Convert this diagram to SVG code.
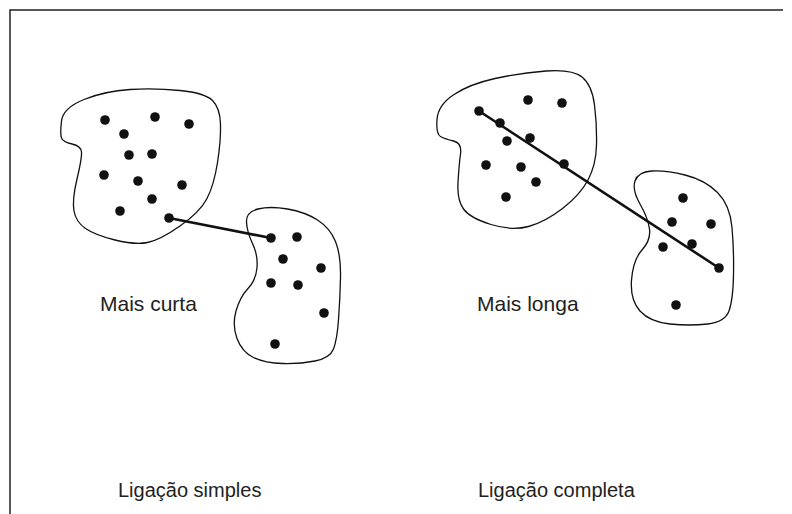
<svg xmlns="http://www.w3.org/2000/svg" width="792" height="514" viewBox="0 0 792 514">
<style>
.frame{fill:none;stroke:#222;stroke-width:1.5}
.blob{fill:none;stroke:#111;stroke-width:1.3}
.dot{fill:#111}
.link{stroke:#111;stroke-width:2.6;fill:none}
.lbl{font-family:"Liberation Sans",Arial,sans-serif;fill:#222}
.big{font-size:21px}
.cap{font-size:20px}
</style>
<path class="frame" d="M10,514 V10 H783"/>
<g id="cluster-a">
<path class="blob" d="M61.5,138 Q60,134 61.5,121 Q63,108 84,99.5 Q105,91 130,89.5 Q155,88 180,90.5 Q205,93 212.5,100.5 Q220,108 220.5,124 Q221,140 217.5,162.5 Q214,185 207,198.5 Q200,212 180,226 Q160,240 147.5,242.5 Q135,245 115,240 Q95,235 85.5,228.5 Q76,222 74,211 Q72,200 77,179 Q82,158 81.5,152 Q81,146 72,144 Q63,142 61.5,138 Z"/>
<g class="dot">
<circle cx="105" cy="120" r="4.8"/><circle cx="155" cy="117" r="4.8"/><circle cx="189" cy="124" r="4.8"/>
<circle cx="124" cy="134" r="4.8"/><circle cx="129" cy="155" r="4.8"/><circle cx="152" cy="154" r="4.8"/>
<circle cx="104" cy="175" r="4.8"/><circle cx="138" cy="181" r="4.8"/><circle cx="182" cy="185" r="4.8"/>
<circle cx="152" cy="199" r="4.8"/><circle cx="120" cy="211" r="4.8"/><circle cx="169" cy="218" r="4.8"/>
</g>
</g>
<g id="cluster-b">
<path class="blob" d="M246.5,222 Q246,212 258,209 Q270,206 287.5,209 Q305,212 317.5,220 Q330,228 335.5,241.5 Q341,255 340.5,277.5 Q340,300 338.5,320 Q337,340 333.5,349 Q330,358 315,361 Q300,364 282.5,363.5 Q265,363 253.5,357.5 Q242,352 237,338.5 Q232,325 236,311 Q240,297 248,288.5 Q256,280 257,267.5 Q258,255 252.5,243.5 Q247,232 246.5,222 Z"/>
<g class="dot">
<circle cx="271" cy="238" r="4.8"/><circle cx="297" cy="237" r="4.8"/><circle cx="283" cy="259" r="4.8"/>
<circle cx="321" cy="268" r="4.8"/><circle cx="271" cy="283" r="4.8"/><circle cx="298" cy="285" r="4.8"/>
<circle cx="324" cy="313" r="4.8"/><circle cx="275" cy="344" r="4.8"/>
</g>
</g>
<g id="cluster-c">
<path class="blob" d="M440.5,136.5 Q436,134 437,119.5 Q438,105 454,94.5 Q470,84 495,78.5 Q520,73 546,71 Q572,69 582,77 Q592,85 594.5,105 Q597,125 596.5,145 Q596,165 588,180 Q580,195 562.5,208.5 Q545,222 528.5,226.5 Q512,231 491,224.5 Q470,218 463.5,209 Q457,200 458,182.5 Q459,165 460.5,154 Q462,143 453.5,141 Q445,139 440.5,136.5 Z"/>
<g class="dot">
<circle cx="479" cy="111" r="4.8"/><circle cx="528" cy="100" r="4.8"/><circle cx="562" cy="103" r="4.8"/>
<circle cx="500" cy="123" r="4.8"/><circle cx="530" cy="138" r="4.8"/><circle cx="507" cy="141" r="4.8"/>
<circle cx="486" cy="165" r="4.8"/><circle cx="521" cy="167" r="4.8"/><circle cx="564" cy="164" r="4.8"/>
<circle cx="536" cy="182" r="4.8"/><circle cx="506" cy="197" r="4.8"/>
</g>
</g>
<g id="cluster-d">
<path class="blob" d="M640,204 Q632,190 635,181 Q638,172 651.5,171 Q665,170 685,175 Q705,180 717.5,192.5 Q730,205 732,227.5 Q734,250 733.5,275 Q733,300 729,311 Q725,322 707.5,324 Q690,326 670,324 Q650,322 640,311 Q630,300 631.5,280 Q633,260 642,250 Q651,240 649.5,229 Q648,218 640,204 Z"/>
<g class="dot">
<circle cx="683" cy="198" r="4.8"/><circle cx="672" cy="222" r="4.8"/><circle cx="711" cy="224" r="4.8"/>
<circle cx="663" cy="247" r="4.8"/><circle cx="692" cy="244" r="4.8"/><circle cx="719" cy="268" r="4.8"/>
<circle cx="676" cy="305" r="4.8"/>
</g>
</g>
<g id="connectors">
<line class="link" x1="169" y1="218" x2="271" y2="238"/>
<line class="link" x1="479" y1="111" x2="719" y2="268"/>
</g>
<g id="labels">
<text class="lbl big" x="100" y="311">Mais curta</text>
<text class="lbl big" x="477" y="311">Mais longa</text>
<text class="lbl cap" x="118" y="497">Ligação simples</text>
<text class="lbl cap" x="478" y="497">Ligação completa</text>
</g>
</svg>
